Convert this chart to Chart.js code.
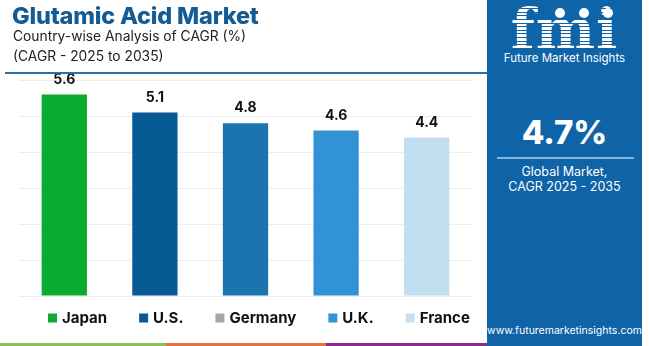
<!DOCTYPE html>
<html>
<head>
<meta charset="utf-8">
<script src="https://cdn.jsdelivr.net/npm/chart.js@4.4.1/dist/chart.umd.min.js"></script>
<style>
  html, body { margin: 0; padding: 0; background: #fff; }
  #wrap { position: relative; width: 650px; height: 346px; overflow: hidden; font-family: Inter, "Open Sans", sans-serif; }
  #chart { position: absolute; left: 0; top: 0; }
  .title { position: absolute; left: 12px; top: 1px; font-weight: 800; font-size: 23.5px; color: #145a93; letter-spacing: -0.2px; }
  .sub { position: absolute; left: 13px; font-size: 13.8px; color: #222; }
  .rule { position: absolute; left: 5px; top: 72px; width: 482px; height: 2px; background: #2c6fa3; }
  .stripe { position: absolute; top: 343px; height: 3px; }
  #panel { position: absolute; left: 487px; top: 0; width: 155px; height: 346px; background: #0f63a7; color: #fff; text-align: center; }
  .logo { position: absolute; left: 0; width: 155px; top: 2px; font: bold 56px "DejaVu Serif", serif; line-height: 54px; letter-spacing: 1px;
          background: repeating-linear-gradient(#fff 0 2.6px, rgba(255,255,255,0) 2.6px 3.6px); -webkit-background-clip: text; background-clip: text; color: transparent; }
  .logo-sub { position: absolute; left: 0; width: 155px; top: 51px; font-size: 11.5px; }
  .dot { position: absolute; top: 8px; width: 10px; height: 10px; border-radius: 50%; background: #fff; z-index: 2; }
  .big { position: absolute; left: 0; width: 155px; top: 112px; font-weight: 800; font-size: 33px; }
  .prule { position: absolute; left: 10px; width: 137px; top: 157px; height: 1.5px; background: #7fb6e2; }
  .pnote { position: absolute; left: 0; width: 155px; top: 164px; font-size: 12.5px; line-height: 15px; }
  .url { position: absolute; left: 0; width: 155px; top: 324px; font-size: 10.5px; }
</style>
</head>
<body>
<div id="wrap">
  <canvas id="chart" width="650" height="346"></canvas>
  <div class="title">Glutamic Acid Market</div>
  <div class="sub" style="top:28px">Country-wise Analysis of CAGR (%)</div>
  <div class="sub" style="top:48px">(CAGR - 2025 to 2035)</div>
  <div class="rule"></div>
  <div class="stripe" style="left:0;width:166px;background:#8cc152"></div>
  <div class="stripe" style="left:166px;width:160px;background:#e8703a"></div>
  <div class="stripe" style="left:326px;width:161px;background:#8d2a8f"></div>
  <div id="panel">
    <div class="logo">fmi</div>
    <div class="dot" style="left:68px"></div>
    <div class="dot" style="left:92px"></div>
    <div class="dot" style="left:116px"></div>
    <div class="logo-sub">Future Market Insights</div>
    <div class="big">4.7%</div>
    <div class="prule"></div>
    <div class="pnote">Global Market,<br>CAGR 2025 - 2035</div>
    <div class="url">www.futuremarketinsights.com</div>
  </div>
</div>
<script>
// country CAGR values, 2025-2035
const countries = ['Japan', 'U.S.', 'Germany', 'U.K.', 'France'];
const cagr = [5.6, 5.1, 4.8, 4.6, 4.4];
const barColors = ['#0aab2e', '#075a94', '#1b74ae', '#3193d3', '#c2dff0'];
const legendColors = ['#12a833', '#0c5896', '#a6a6a6', '#3294d2', '#c5e0f3'];
const yMax = 6;

// value labels above each bar
const valueLabels = {
  id: 'valueLabels',
  afterDatasetsDraw(chart) {
    const ctx = chart.ctx;
    const meta = chart.getDatasetMeta(0);
    ctx.save();
    ctx.font = 'bold 14px Inter, sans-serif';
    ctx.fillStyle = '#111';
    ctx.textAlign = 'center';
    ctx.textBaseline = 'middle';
    meta.data.forEach((bar, i) => {
      ctx.fillText(cagr[i].toFixed(1), bar.x, bar.y - 15);
    });
    ctx.restore();
  }
};

// legend row under the plot
const legendRow = {
  id: 'legendRow',
  afterDraw(chart) {
    const ctx = chart.ctx;
    ctx.save();
    ctx.font = 'bold 15px Inter, sans-serif';
    ctx.textBaseline = 'middle';
    let x = 48;
    const y = 318;
    countries.forEach((name, i) => {
      ctx.fillStyle = legendColors[i];
      ctx.fillRect(x, y - 4.5, 9, 9);
      ctx.fillStyle = '#111';
      ctx.fillText(name, x + 14, y);
      x += 14 + ctx.measureText(name).width + 32;
    });
    ctx.restore();
  }
};

new Chart(document.getElementById('chart'), {
  type: 'bar',
  data: {
    labels: countries,
    datasets: [{
      data: cagr,
      backgroundColor: barColors,
      borderWidth: 0,
      barPercentage: 0.5,
      categoryPercentage: 1
    }]
  },
  options: {
    responsive: false,
    animation: false,
    layout: { padding: { left: 19, right: 178, top: 80, bottom: 50 } },
    plugins: { legend: { display: false }, tooltip: { enabled: false } },
    scales: {
      x: {
        grid: { display: false, drawTicks: false },
        border: { display: false },
        ticks: { display: false }
      },
      y: {
        min: 0,
        max: yMax,
        ticks: { display: false, stepSize: 1 },
        grid: { color: '#ececec', drawTicks: false },
        border: { display: false }
      }
    }
  },
  plugins: [valueLabels, legendRow]
});
</script>
</body>
</html>
